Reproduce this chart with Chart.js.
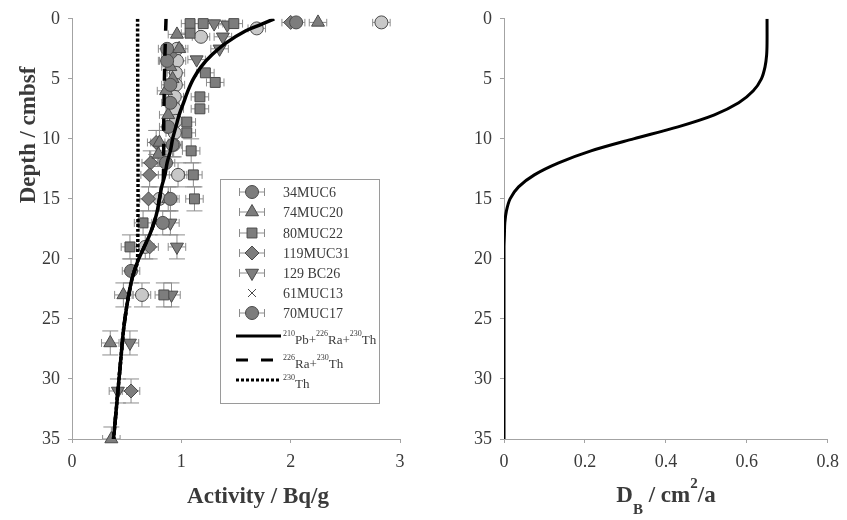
<!DOCTYPE html>
<html>
<head>
<meta charset="utf-8">
<script src="https://cdn.jsdelivr.net/npm/chart.js@4.4.0/dist/chart.umd.min.js"></script>
<style>
  html, body { margin: 0; padding: 0; background: #fff; }
  #wrap { position: relative; width: 847px; height: 520px; }
  #left { position: absolute; left: 0; top: 0; width: 430px; height: 520px; }
  #right { position: absolute; left: 430px; top: 0; width: 417px; height: 520px; }
</style>
</head>
<body>
<div id="wrap">
  <div id="left"><canvas id="activityChart"></canvas></div>
  <div id="right"><canvas id="dbChart"></canvas></div>
</div>
<script>
// tick labels
const depthTicks = [0, 5, 10, 15, 20, 25, 30, 35];
const activityTicks = [0, 1, 2, 3];
const dbTicks = [0, 0.2, 0.4, 0.6, 0.8];

// legend names ({..} = superscript, [..] = subscript)
const seriesNames = ['34MUC6', '74MUC20', '80MUC22', '119MUC31', '129 BC26', '61MUC13', '70MUC17'];
const curveNames = ['{210}Pb+{226}Ra+{230}Th', '{226}Ra+{230}Th', '{230}Th'];

// measured activity (Bq/g) vs depth (cmbsf)
const muc6Depth = [0.3, 2.5, 3.5, 5.5, 7, 9, 10.5, 12, 15, 17, 21];
const muc6Act   = [2.05, 0.87, 0.87, 0.9, 0.9, 0.88, 0.92, 0.86, 0.9, 0.83, 0.54];
const muc20Depth = [0.3, 1.3, 2.5, 4, 5, 6, 8, 10.3, 11.3, 15, 23, 27, 35];
const muc20Act   = [2.25, 0.96, 0.98, 0.9, 0.92, 0.86, 0.88, 0.8, 0.79, 0.88, 0.47, 0.35, 0.36];
const muc22Depth = [0.4, 0.4, 0.4, 1.2, 4.5, 5.3, 6.5, 7.5, 8.6, 9.5, 11, 13, 15, 17, 19, 23];
const muc22Act   = [1.08, 1.2, 1.48, 1.08, 1.22, 1.31, 1.17, 1.17, 1.05, 1.05, 1.09, 1.11, 1.12, 0.65, 0.53, 0.84];
const muc31Depth = [0.3, 3, 10.3, 12, 13, 15, 19, 31];
const muc31Act   = [2.0, 0.9, 0.77, 0.72, 0.71, 0.70, 0.71, 0.54];
const bc26Depth = [0.4, 0.5, 1.5, 2.5, 3.4, 17, 19, 23, 27, 31];
const bc26Act   = [1.3, 1.42, 1.38, 1.35, 1.14, 0.9, 0.96, 0.91, 0.53, 0.42];
const muc13Depth = [];
const muc13Act   = [];
const muc17Depth = [0.3, 0.8, 1.5, 2.5, 3.5, 3.5, 4.5, 5.5, 6.5, 7.5, 8.5, 9.5, 10.5, 13, 15, 19, 23];
const muc17Act   = [2.83, 1.69, 1.18, 0.96, 0.88, 0.96, 0.95, 0.95, 0.94, 0.94, 0.95, 0.94, 0.93, 0.97, 0.8, 0.67, 0.64];
const actErr = 0.08;

// model curves
const totalDepth = [0, 0.5, 1, 2, 3, 4, 5, 6, 7, 8, 9, 10, 11, 12, 13, 14, 15, 16, 17, 18, 19, 20, 21, 22, 24, 26, 28, 30, 32, 34, 35];
const totalAct   = [1.85, 1.72, 1.59, 1.41, 1.28, 1.18, 1.11, 1.06, 1.02, 0.98, 0.95, 0.92, 0.9, 0.87, 0.85, 0.82, 0.8, 0.78, 0.75, 0.71, 0.66, 0.61, 0.57, 0.54, 0.5, 0.47, 0.45, 0.43, 0.41, 0.39, 0.38];
const raThDepth = [0, 3, 8, 13.5, 14, 15, 16, 17, 18, 19, 20, 21, 22, 24, 26, 28, 30, 32, 34, 35];
const raThAct   = [0.86, 0.85, 0.84, 0.835, 0.82, 0.8, 0.78, 0.75, 0.71, 0.66, 0.61, 0.57, 0.54, 0.5, 0.47, 0.45, 0.43, 0.41, 0.39, 0.38];
const thDepth = [0, 20.2, 21, 22, 24, 26, 28, 30, 32, 34, 35];
const thAct   = [0.6, 0.6, 0.57, 0.54, 0.5, 0.47, 0.45, 0.43, 0.41, 0.39, 0.38];

// bioturbation coefficient D_B (cm2/a) vs depth
const dbDepth = [0, 2, 3, 4, 5, 6, 7, 8, 9, 10, 11, 12, 13, 14, 15, 16, 17, 18, 19, 20, 35];
const dbValue = [0.65, 0.65, 0.649, 0.645, 0.636, 0.616, 0.58, 0.52, 0.43, 0.32, 0.215, 0.135, 0.075, 0.036, 0.015, 0.006, 0.002, 0.001, 0, 0, 0];

const FONT = "'Liberation Serif', 'Times New Roman', serif";
const AXIS_GRAY = '#a3a3a3';
const TEXT = '#3a3a3a';
Chart.defaults.font.family = FONT;
Chart.defaults.color = TEXT;

function pts(depths, vals) {
  return depths.map((d, i) => ({ x: vals[i], y: d }));
}

// rich text: {sup} [sub]
function richParts(str) {
  let out = [], re = /\{([^}]*)\}|\[([^\]]*)\]|([^{\[]+)/g, m;
  while ((m = re.exec(str))) {
    if (m[1] != null) out.push({ t: m[1], mode: 'sup' });
    else if (m[2] != null) out.push({ t: m[2], mode: 'sub' });
    else out.push({ t: m[3], mode: '' });
  }
  return out;
}
function drawRich(ctx, str, x, y, size, weight, align) {
  let parts = richParts(str);
  let small = Math.round(size * 0.65);
  let fontFor = p => weight + ' ' + (p.mode ? small : size) + 'px ' + FONT;
  let w = 0;
  parts.forEach(p => { ctx.font = fontFor(p); p.w = ctx.measureText(p.t).width; w += p.w; });
  let cx = align === 'center' ? x - w / 2 : x;
  ctx.textAlign = 'left';
  ctx.textBaseline = 'alphabetic';
  parts.forEach(p => {
    ctx.font = fontFor(p);
    let dy = p.mode === 'sup' ? -size * 0.6 : (p.mode === 'sub' ? size * 0.5 : 0);
    ctx.fillText(p.t, cx, y + dy);
    cx += p.w;
  });
}

function marker(ctx, style, r, rot, x, y) {
  ctx.beginPath();
  if (style === 'circle') {
    ctx.arc(x, y, r, 0, Math.PI * 2);
  } else if (style === 'triangle') {
    let s = rot ? -1 : 1;
    ctx.moveTo(x, y - s * r);
    ctx.lineTo(x + r * 0.866, y + s * r * 0.5);
    ctx.lineTo(x - r * 0.866, y + s * r * 0.5);
    ctx.closePath();
  } else if (style === 'rect') {
    let h = r * Math.SQRT1_2;
    ctx.rect(x - h, y - h, 2 * h, 2 * h);
  } else if (style === 'rectRot') {
    ctx.moveTo(x, y - r); ctx.lineTo(x + r, y); ctx.lineTo(x, y + r); ctx.lineTo(x - r, y);
    ctx.closePath();
  } else if (style === 'crossRot') {
    ctx.moveTo(x - r, y - r); ctx.lineTo(x + r, y + r);
    ctx.moveTo(x + r, y - r); ctx.lineTo(x - r, y + r);
    ctx.stroke();
    return;
  }
  ctx.fill();
  ctx.stroke();
}

// error bars behind the markers
const errorBars = {
  id: 'errorBars',
  beforeDatasetsDraw(chart) {
    let ctx = chart.ctx, xs = chart.scales.x, ys = chart.scales.y, a = chart.chartArea;
    ctx.save();
    ctx.beginPath();
    ctx.rect(a.left, a.top, a.right - a.left, a.bottom - a.top);
    ctx.clip();
    ctx.strokeStyle = '#8c8c8c';
    ctx.lineWidth = 1;
    chart.data.datasets.forEach(ds => {
      if (ds.errX == null) return;
      ds.data.forEach(p => {
        let px = xs.getPixelForValue(p.x), py = ys.getPixelForValue(p.y);
        let x0 = xs.getPixelForValue(p.x - ds.errX), x1 = xs.getPixelForValue(p.x + ds.errX);
        ctx.beginPath();
        ctx.moveTo(x0, py); ctx.lineTo(x1, py);
        ctx.moveTo(x0, py - 4); ctx.lineTo(x0, py + 4);
        ctx.moveTo(x1, py - 4); ctx.lineTo(x1, py + 4);
        if (p.y > 10) {
          let y0 = ys.getPixelForValue(p.y - 1), y1 = ys.getPixelForValue(p.y + 1);
          ctx.moveTo(px, y0); ctx.lineTo(px, y1);
          ctx.moveTo(px - 8, y0); ctx.lineTo(px + 8, y0);
          ctx.moveTo(px - 8, y1); ctx.lineTo(px + 8, y1);
        }
        ctx.stroke();
      });
    });
    ctx.restore();
  }
};

// legend box inside the activity panel
const legendBox = {
  id: 'legendBox',
  afterDraw(chart) {
    let ctx = chart.ctx;
    ctx.save();
    ctx.fillStyle = '#fff';
    ctx.strokeStyle = '#9a9a9a';
    ctx.lineWidth = 1;
    ctx.fillRect(220, 179, 159, 224);
    ctx.strokeRect(220.5, 179.5, 159, 224);
    let rows = [192, 212, 233, 253, 273, 293, 313];
    let ds = chart.data.datasets.filter(d => d.errX != null || d.pointStyle === 'crossRot');
    ds.forEach((d, i) => {
      let y = rows[i], x = 252;
      if (d.pointStyle !== 'crossRot') {
        ctx.strokeStyle = '#8c8c8c';
        ctx.beginPath();
        ctx.moveTo(239, y); ctx.lineTo(265, y);
        ctx.moveTo(239.5, y - 4); ctx.lineTo(239.5, y + 4);
        ctx.moveTo(264.5, y - 4); ctx.lineTo(264.5, y + 4);
        ctx.stroke();
      }
      ctx.fillStyle = d.legendFill || d.pointBackgroundColor;
      ctx.strokeStyle = d.pointBorderColor;
      ctx.lineWidth = 1;
      marker(ctx, d.pointStyle, d.pointRadius, d.pointRotation, x, y);
      ctx.fillStyle = TEXT;
      drawRich(ctx, seriesNames[i], 283, y + 5, 14, 'normal', 'left');
    });
    let lineRows = [336, 360, 380];
    let lines = chart.data.datasets.filter(d => d.showLine);
    lines.forEach((d, i) => {
      let y = lineRows[i];
      ctx.strokeStyle = '#000';
      ctx.lineWidth = 3;
      ctx.setLineDash(d.borderDash || []);
      ctx.beginPath();
      ctx.moveTo(236, y); ctx.lineTo(281, y);
      ctx.stroke();
      ctx.setLineDash([]);
      ctx.fillStyle = TEXT;
      drawRich(ctx, curveNames[i], 283, y + 8, 13, 'normal', 'left');
    });
    ctx.restore();
  }
};

function titlePlugin(titles) {
  return {
    id: 'axisTitles',
    afterDraw(chart) {
      let ctx = chart.ctx;
      ctx.save();
      ctx.fillStyle = TEXT;
      titles.forEach(t => {
        ctx.save();
        ctx.translate(t.x, t.y);
        if (t.rotate) ctx.rotate(-Math.PI / 2);
        drawRich(ctx, t.text, 0, 0, 23, 'bold', 'center');
        ctx.restore();
      });
      ctx.restore();
    }
  };
}

function axisStyle(ticks, extra) {
  return Object.assign({
    type: 'linear',
    afterBuildTicks: s => { s.ticks = ticks.map(v => ({ value: v })); },
    ticks: { font: { size: 18, family: FONT }, color: TEXT, padding: 8 },
    grid: { drawOnChartArea: false, drawTicks: true, tickLength: 4, color: AXIS_GRAY },
    border: { display: true, color: AXIS_GRAY, width: 1 }
  }, extra);
}

function markerSet(name, depths, vals, style, radius, fill, rotation) {
  return {
    label: name,
    data: pts(depths, vals),
    showLine: false,
    clip: false,
    pointStyle: style,
    pointRadius: radius,
    pointRotation: rotation || 0,
    pointBackgroundColor: fill,
    pointBorderColor: '#4a4a4a',
    pointBorderWidth: 1,
    errX: actErr
  };
}

function curveSet(name, depths, vals, dash) {
  return {
    label: name,
    data: pts(depths, vals),
    showLine: true,
    borderColor: '#000',
    borderWidth: 3.5,
    borderDash: dash,
    pointRadius: 0,
    tension: 0.3,
    fill: false
  };
}

let muc13 = markerSet(seriesNames[5], muc13Depth, muc13Act, 'crossRot', 4, '#555');
delete muc13.errX;
let muc17 = markerSet(seriesNames[6], muc17Depth, muc17Act, 'circle', 6.5, '#c8c8c8');
muc17.legendFill = '#7d7d7d';

new Chart(document.getElementById('activityChart'), {
  type: 'scatter',
  data: {
    datasets: [
      curveSet(curveNames[0], totalDepth, totalAct, []),
      curveSet(curveNames[1], raThDepth, raThAct, [12, 13]),
      curveSet(curveNames[2], thDepth, thAct, [3, 2]),
      markerSet(seriesNames[0], muc6Depth, muc6Act, 'circle', 6.5, '#7d7d7d'),
      markerSet(seriesNames[1], muc20Depth, muc20Act, 'triangle', 7.5, '#7d7d7d'),
      markerSet(seriesNames[2], muc22Depth, muc22Act, 'rect', 7, '#7d7d7d'),
      markerSet(seriesNames[3], muc31Depth, muc31Act, 'rectRot', 7, '#7d7d7d'),
      markerSet(seriesNames[4], bc26Depth, bc26Act, 'triangle', 7.5, '#7d7d7d', 180),
      muc13,
      muc17
    ]
  },
  options: {
    responsive: true,
    maintainAspectRatio: false,
    animation: false,
    layout: { padding: { top: 16, right: 30, left: 0, bottom: 0 } },
    plugins: { legend: { display: false }, tooltip: { enabled: false } },
    scales: {
      x: axisStyle(activityTicks, { min: 0, max: 3, afterFit: s => { s.height = 81; } }),
      y: axisStyle(depthTicks, { min: 0, max: 35, reverse: true, afterFit: s => { s.width = 72; } })
    }
  },
  plugins: [errorBars, legendBox, titlePlugin([
    { text: 'Depth / cmbsf', x: 35, y: 135, rotate: true },
    { text: 'Activity / Bq/g', x: 258, y: 503 }
  ])]
});

new Chart(document.getElementById('dbChart'), {
  type: 'scatter',
  data: {
    datasets: [{
      label: 'D_B',
      data: pts(dbDepth, dbValue),
      showLine: true,
      borderColor: '#000',
      borderWidth: 3,
      pointRadius: 0,
      tension: 0.3
    }]
  },
  options: {
    responsive: true,
    maintainAspectRatio: false,
    animation: false,
    layout: { padding: { top: 16, right: 15, left: 0, bottom: 0 } },
    plugins: { legend: { display: false }, tooltip: { enabled: false } },
    scales: {
      x: axisStyle(dbTicks, { min: 0, max: 0.8, afterFit: s => { s.height = 81; } }),
      y: axisStyle(depthTicks, { min: 0, max: 35, reverse: true, afterFit: s => { s.width = 74; } })
    }
  },
  plugins: [titlePlugin([
    { text: 'D[B] / cm{2}/a', x: 236, y: 502 }
  ])]
});
</script>
</body>
</html>
